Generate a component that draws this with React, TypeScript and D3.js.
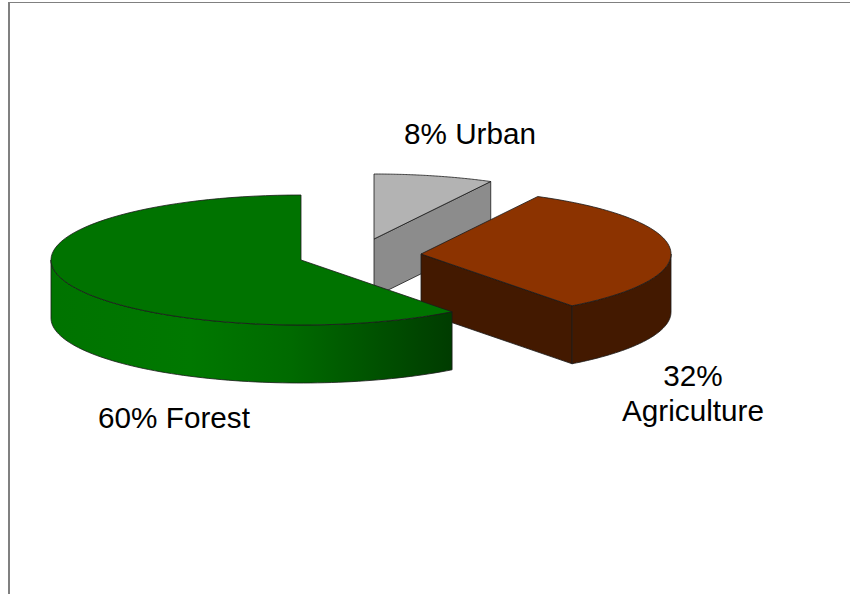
import React from "react";
import * as d3 from "d3";

// Land use shares, in percent, clockwise from twelve o'clock.
const categories = ["Urban", "Agriculture", "Forest"];
const shares = [8, 32, 60];

// Label lines for each slice.
const labelLines = [["8% Urban"], ["32%", "Agriculture"], ["60% Forest"]];

const WIDTH = 850;
const HEIGHT = 594;
const RX = 250;
const RY = 65;
const DEPTH = 58;

const centres = [
  { x: 374, y: 239 },
  { x: 421, y: 254 },
  { x: 301, y: 260 },
];
const topFill = ["#b3b3b3", "#8c3300", "#007300"];
const wallFill = ["#8c8c8c", "#431900", "url(#forestWall)"];
const labelPos = [
  { x: 470, y: 144 },
  { x: 693, y: 386 },
  { x: 174, y: 428 },
];

const slices = d3
  .pie<number>()
  .sort(null)
  .value((d) => d)(shares);

const line = d3.line<[number, number]>();

// Slight foreshortening of the disc: angles on the right-hand side appear a little compressed.
const FORESHORTEN = (2 * Math.PI) / 180;
const view = (a: number) => a - FORESHORTEN * Math.sin(a);

// Point on the tilted rim at a clockwise angle from twelve o'clock.
const rim = (c: { x: number; y: number }, a: number, dy = 0): [number, number] => [
  c.x + RX * Math.sin(a),
  c.y - RY * Math.cos(a) + dy,
];

const arcPoints = (c: { x: number; y: number }, a0: number, a1: number, dy = 0) =>
  d3.range(0, 81).map((i) => rim(c, a0 + ((a1 - a0) * i) / 80, dy));

const STROKE = "#1a1a1a";

function Slice({ index }: { index: number }) {
  const c = centres[index];
  const a0 = view(slices[index].startAngle);
  const a1 = view(slices[index].endAngle);
  const top = line([[c.x, c.y], ...arcPoints(c, a0, a1)]) + "Z";

  // Walls that face the viewer.
  const walls: string[] = [];
  if (index === 0) {
    // Radial face on the clockwise edge, seen from the open side.
    walls.push(line([[c.x, c.y], rim(c, a1), rim(c, a1, DEPTH), [c.x, c.y + DEPTH]]) + "Z");
  }
  if (index === 1) {
    walls.push(line([[c.x, c.y], rim(c, a1), rim(c, a1, DEPTH), [c.x, c.y + DEPTH]]) + "Z");
    const outer = arcPoints(c, Math.PI / 2, a1);
    const lower = arcPoints(c, a1, Math.PI / 2, DEPTH);
    walls.push(line([...outer, ...lower]) + "Z");
  }
  if (index === 2) {
    const outer = arcPoints(c, a0, (3 * Math.PI) / 2);
    const lower = arcPoints(c, (3 * Math.PI) / 2, a0, DEPTH);
    walls.push(line([...outer, ...lower]) + "Z");
  }

  return (
    <g data-category={categories[index]} strokeWidth={0.8} stroke={STROKE} strokeLinejoin="round">
      {walls.map((d, i) => (
        <path key={i} d={d} fill={wallFill[index]} />
      ))}
      <path d={top} fill={topFill[index]} />
    </g>
  );
}

export default function App() {
  return (
    <svg
      width={WIDTH}
      height={HEIGHT}
      viewBox={`0 0 ${WIDTH} ${HEIGHT}`}
      style={{ position: "absolute", left: 0, top: 0, background: "#ffffff" }}
    >
      <defs>
        <linearGradient id="forestWall" gradientUnits="userSpaceOnUse" x1={51} x2={451} y1={0} y2={0}>
          <stop offset="0" stopColor="#007300" />
          <stop offset="0.35" stopColor="#007800" />
          <stop offset="0.6" stopColor="#006a00" />
          <stop offset="1" stopColor="#003c00" />
        </linearGradient>
      </defs>

      <rect x={8} y={2} width={842} height={1} fill="#808080" />
      <rect x={8} y={2} width={2} height={592} fill="#808080" />

      {/* Painted back to front so the nearer slices overlap the farther ones. */}
      <Slice index={0} />
      <Slice index={1} />
      <Slice index={2} />

      <g fontFamily="'Liberation Sans', Arial, sans-serif" fontSize={29.7} fill="#000000" textAnchor="middle">
        {labelLines.map((lines, i) => (
          <text key={i} x={labelPos[i].x} y={labelPos[i].y}>
            {lines.map((t, j) => (
              <tspan key={j} x={labelPos[i].x} dy={j === 0 ? 0 : 35}>
                {t}
              </tspan>
            ))}
          </text>
        ))}
      </g>
    </svg>
  );
}
